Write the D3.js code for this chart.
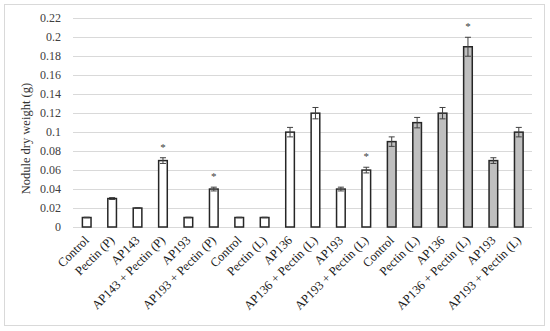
<!DOCTYPE html>
<html>
<head>
<meta charset="utf-8">
<script src="https://cdn.jsdelivr.net/npm/d3@7"></script>
<style>
  body { margin: 0; background: #fff; }
  svg { display: block; }
</style>
</head>
<body>
<svg id="chart" width="550" height="331"></svg>
<script>
// Category labels along the x axis
var categories = [
    "Control", "Pectin (P)", "AP143", "AP143 + Pectin (P)", "AP193", "AP193 + Pectin (P)",
    "Control", "Pectin (L)", "AP136", "AP136 + Pectin (L)", "AP193", "AP193 + Pectin (L)",
    "Control", "Pectin (L)", "AP136", "AP136 + Pectin (L)", "AP193", "AP193 + Pectin (L)"
];
// Mean nodule dry weight (g)
var values = [0.01, 0.03, 0.02, 0.07, 0.01, 0.04, 0.01, 0.01, 0.10, 0.12, 0.04, 0.06,
              0.09, 0.11, 0.12, 0.19, 0.07, 0.10];
// Error bar half-lengths
var errors = [0.0003, 0.001, 0.0005, 0.003, 0.0003, 0.002, 0.0003, 0.0003, 0.005, 0.006, 0.002, 0.003,
              0.005, 0.0055, 0.006, 0.01, 0.003, 0.005];
// Shaded (grey) bars
var shaded = [false, false, false, false, false, false, false, false, false, false, false, false,
              true, true, true, true, true, true];
// Significance markers
var significant = [false, false, false, true, false, true, false, false, false, false, false, true,
                   false, false, false, true, false, false];
var yTicks = [0, 0.02, 0.04, 0.06, 0.08, 0.1, 0.12, 0.14, 0.16, 0.18, 0.2, 0.22];

var svg = d3.select("#chart");
var font = "'Liberation Serif', 'DejaVu Serif', serif";

// Outer frame
svg.append("rect")
    .attr("x", 4.5).attr("y", 4.5)
    .attr("width", 540).attr("height", 321)
    .attr("fill", "#fff")
    .attr("stroke", "#d9d9d9")
    .attr("stroke-width", 1);

var x = d3.scaleBand()
    .domain(d3.range(categories.length))
    .range([74, 531.5]);

var y = d3.scaleLinear()
    .domain([0, 0.22])
    .range([227, 18.3]);

// Gridlines
svg.append("g").selectAll("line").data(yTicks).enter()
    .append("line")
    .attr("x1", 73).attr("x2", 532)
    .attr("y1", function (d) { return Math.round(y(d)) + 0.5; })
    .attr("y2", function (d) { return Math.round(y(d)) + 0.5; })
    .attr("stroke", "#d9d9d9")
    .attr("stroke-width", 1);

// Y tick labels
svg.append("g").selectAll("text").data(yTicks).enter()
    .append("text")
    .attr("x", 61)
    .attr("y", function (d) { return y(d) + 4; })
    .attr("text-anchor", "end")
    .style("font-family", font)
    .style("font-size", "12px")
    .attr("fill", "#404040")
    .text(function (d) { return d3.format("~g")(d); });

// Y axis title
svg.append("text")
    .attr("transform", "translate(30," + ((y(0) + y(0.22)) / 2 + 16) + ") rotate(-90)")
    .attr("text-anchor", "middle")
    .style("font-family", font)
    .style("font-size", "12.5px")
    .attr("fill", "#333")
    .text("Nodule dry weight (g)");

var barW = x.bandwidth() * 0.34;

// Bars
svg.append("g").selectAll("rect").data(values).enter()
    .append("rect")
    .attr("x", function (d, i) { return x(i) + (x.bandwidth() - barW) / 2; })
    .attr("y", function (d) { return y(d); })
    .attr("width", barW)
    .attr("height", function (d) { return y(0) - y(d); })
    .attr("fill", function (d, i) { return shaded[i] ? "#bfbfbf" : "#fff"; })
    .attr("stroke", "#262626")
    .attr("stroke-width", 1.5);

// Error bars
var eb = svg.append("g").attr("stroke", "#404040").attr("stroke-width", 1);
values.forEach(function (v, i) {
    var cx = x(i) + x.bandwidth() / 2;
    var top = y(v + errors[i]), bot = y(v - errors[i]);
    eb.append("line").attr("x1", cx).attr("x2", cx).attr("y1", top).attr("y2", bot);
    eb.append("line").attr("x1", cx - 3).attr("x2", cx + 3).attr("y1", top).attr("y2", top);
    eb.append("line").attr("x1", cx - 3).attr("x2", cx + 3).attr("y1", bot).attr("y2", bot);
    if (significant[i]) {
        svg.append("text")
            .attr("x", cx)
            .attr("y", top - 7)
            .attr("text-anchor", "middle")
            .style("font-family", font)
            .style("font-size", "11px")
            .attr("fill", "#404040")
            .text("*");
    }
});

// X category labels, rotated
svg.append("g").selectAll("text").data(categories).enter()
    .append("text")
    .attr("transform", function (d, i) {
        return "translate(" + (x(i) + x.bandwidth() / 2 + 3) + ",241) rotate(-45)";
    })
    .attr("text-anchor", "end")
    .style("font-family", font)
    .style("font-size", "12.5px")
    .attr("fill", "#1a1a1a")
    .text(function (d) { return d; });
</script>
</body>
</html>
